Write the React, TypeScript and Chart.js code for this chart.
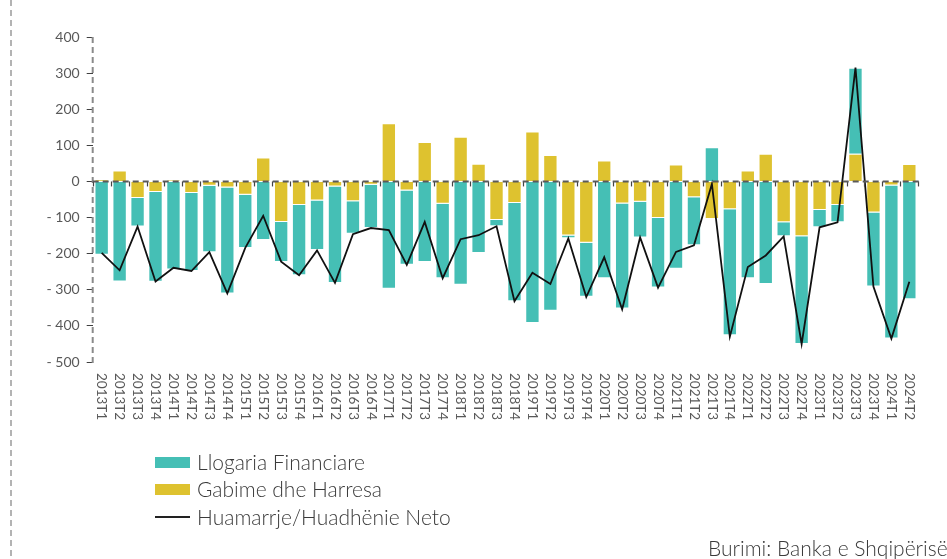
import React, { useEffect, useRef } from "react";
import { Chart, registerables } from "chart.js";

Chart.register(...registerables);

const categories = [
  "2013T1", "2013T2", "2013T3", "2013T4",
  "2014T1", "2014T2", "2014T3", "2014T4",
  "2015T1", "2015T2", "2015T3", "2015T4",
  "2016T1", "2016T2", "2016T3", "2016T4",
  "2017T1", "2017T2", "2017T3", "2017T4",
  "2018T1", "2018T2", "2018T3", "2018T4",
  "2019T1", "2019T2", "2019T3", "2019T4",
  "2020T1", "2020T2", "2020T3", "2020T4",
  "2021T1", "2021T2", "2021T3", "2021T4",
  "2022T1", "2022T2", "2022T3", "2022T4",
  "2023T1", "2023T2", "2023T3", "2023T4",
  "2024T1", "2024T2",
];

const financialAccount = [
  -203, -277, -79, -249,
  -244, -216, -184, -293,
  -147, -162, -111, -195,
  -137, -267, -90, -120,
  -297, -206, -223, -206,
  -286, -198, -17, -272,
  -392, -358, -7, -149,
  -268, -291, -99, -193,
  -242, -133, 95, -349,
  -268, -284, -39, -298,
  -48, -48, 238, -205,
  -424, -326,
];

const errorsOmissions = [
  5, 30, -46, -29,
  4, -32, -12, -17,
  -37, 66, -112, -65,
  -53, -14, -55, -9,
  161, -25, 109, -62,
  124, 49, -107, -60,
  138, 73, -150, -170,
  58, -61, -56, -101,
  47, -44, -104, -77,
  30, 77, -113, -152,
  -79, -65, 77, -86,
  -11, 48,
];

const netLending = [
  -198, -246, -125, -277,
  -239, -248, -196, -310,
  -184, -95, -222, -260,
  -191, -281, -146, -129,
  -135, -231, -112, -268,
  -160, -149, -124, -332,
  -253, -284, -158, -320,
  -210, -354, -155, -294,
  -195, -177, -7, -430,
  -237, -205, -152, -450,
  -127, -113, 315, -291,
  -435, -278,
];

const yTicks = [400, 300, 200, 100, 0, -100, -200, -300, -400, -500];

const seriesNames = ["Llogaria Financiare", "Gabime dhe Harresa", "Huamarrje/Huadhënie Neto"];
const sourceText = "Burimi: Banka e Shqipërisë";

const TEAL = "#45BFB5";
const YELLOW = "#DEC22F";
const FONT = "Lato, 'Open Sans', sans-serif";

const decorPlugin = {
  id: "decor",
  beforeDraw(chart: any) {
    const ctx = chart.ctx;
    ctx.save();
    ctx.strokeStyle = "#9a9a9a";
    ctx.lineWidth = 1.5;
    ctx.setLineDash([6, 4]);
    ctx.beginPath();
    ctx.moveTo(11, 0);
    ctx.lineTo(11, chart.height);
    ctx.stroke();
    ctx.restore();
  },
  afterDatasetsDraw(chart: any) {
    const ctx = chart.ctx;
    const xs = chart.scales.x;
    const ys = chart.scales.y;
    const area = chart.chartArea;
    const y0 = ys.getPixelForValue(0);
    ctx.save();
    // dashed y axis line
    ctx.strokeStyle = "#8a8a8a";
    ctx.lineWidth = 2;
    ctx.setLineDash([6, 4]);
    ctx.beginPath();
    ctx.moveTo(area.left, ys.getPixelForValue(yTicks[0]));
    ctx.lineTo(area.left, ys.getPixelForValue(yTicks[yTicks.length - 1]) + 1);
    ctx.stroke();
    // tick marks at category boundaries
    ctx.strokeStyle = "#444";
    ctx.lineWidth = 1.2;
    ctx.setLineDash([]);
    const n = categories.length;
    const step = n > 1 ? xs.getPixelForValue(1) - xs.getPixelForValue(0) : 0;
    for (let i = 0; i <= n; i++) {
      const bx = Math.round(xs.getPixelForValue(i) - step / 2) + 0.5;
      ctx.beginPath();
      ctx.moveTo(bx, y0);
      ctx.lineTo(bx, y0 + 5);
      ctx.stroke();
    }
    // dashed zero line
    ctx.strokeStyle = "#5a5a5a";
    ctx.lineWidth = 2;
    ctx.setLineDash([6, 4]);
    ctx.beginPath();
    ctx.moveTo(area.left, y0);
    ctx.lineTo(area.right + 2, y0);
    ctx.stroke();
    ctx.restore();
  },
  afterDraw(chart: any) {
    const ctx = chart.ctx;
    const xs = chart.scales.x;
    const area = chart.chartArea;
    ctx.save();
    ctx.fillStyle = "#595959";
    ctx.font = `13.5px ${FONT}`;
    ctx.textAlign = "left";
    ctx.textBaseline = "middle";
    categories.forEach((c, i) => {
      const cx = xs.getPixelForValue(i);
      ctx.save();
      ctx.translate(cx, area.bottom + 11);
      ctx.rotate(Math.PI / 2);
      ctx.fillText(c, 0, 0);
      ctx.restore();
    });
    ctx.restore();
  },
};

export default function App() {
  const canvasRef = useRef<HTMLCanvasElement | null>(null);

  useEffect(() => {
    document.body.style.margin = "0";
    const canvas = canvasRef.current;
    if (!canvas) return;
    const chart = new Chart(canvas, {
      type: "bar",
      data: {
        labels: categories,
        datasets: [
          {
            type: "line",
            label: seriesNames[2],
            data: netLending,
            borderColor: "#111111",
            borderWidth: 1.8,
            pointRadius: 0,
            tension: 0,
            fill: false,
            stack: "net",
            order: 0,
          } as any,
          {
            type: "bar",
            label: seriesNames[1],
            data: errorsOmissions,
            backgroundColor: YELLOW,
            borderColor: "rgba(255,255,255,0.55)",
            borderWidth: 1,
            stack: "bars",
            order: 1,
            barPercentage: 0.8,
            categoryPercentage: 1.0,
          },
          {
            type: "bar",
            label: seriesNames[0],
            data: financialAccount,
            backgroundColor: TEAL,
            borderColor: "rgba(255,255,255,0.55)",
            borderWidth: 1,
            stack: "bars",
            order: 2,
            barPercentage: 0.8,
            categoryPercentage: 1.0,
          },
        ],
      },
      options: {
        responsive: false,
        animation: false,
        devicePixelRatio: 1,
        layout: { padding: { left: 0, right: 28.7, top: 37, bottom: 197 } },
        plugins: {
          legend: { display: false },
          tooltip: { enabled: false },
        },
        scales: {
          x: {
            type: "category",
            display: false,
            stacked: true,
            offset: true,
          },
          y: {
            stacked: true,
            min: -500,
            max: 400,
            afterFit: (s: any) => {
              s.width = 92.7;
            },
            afterBuildTicks: (s: any) => {
              s.ticks = yTicks.map((v) => ({ value: v }));
            },
            ticks: {
              color: "#595959",
              font: { family: FONT, size: 14 },
              padding: 7,
              callback: (v: any) => (Number(v) < 0 ? "- " + Math.abs(Number(v)) : String(v)),
            },
            grid: {
              drawOnChartArea: false,
              drawTicks: true,
              tickLength: 6,
              color: "#404040",
              lineWidth: 1,
            },
            border: {
              display: false,
            },
          },
        },
      },
      plugins: [decorPlugin],
    });
    return () => chart.destroy();
  }, []);

  const textStyle: React.CSSProperties = {
    position: "absolute",
    fontFamily: FONT,
    fontWeight: 300,
    fontSize: 21,
    color: "#3a3a3a",
    lineHeight: "24px",
    whiteSpace: "nowrap",
  };

  return (
    <div style={{ position: "fixed", left: 0, top: 0, width: 947, height: 559, background: "#fff", overflow: "hidden" }}>
      <canvas ref={canvasRef} width={947} height={559} style={{ position: "absolute", left: 0, top: 0 }} />
      <div style={{ position: "absolute", left: 155, top: 457, width: 35, height: 11, background: TEAL }} />
      <div style={{ ...textStyle, left: 197, top: 450 }}>{seriesNames[0]}</div>
      <div style={{ position: "absolute", left: 155, top: 484, width: 35, height: 11, background: YELLOW }} />
      <div style={{ ...textStyle, left: 197, top: 477 }}>{seriesNames[1]}</div>
      <div style={{ position: "absolute", left: 155, top: 516, width: 35, height: 2, background: "#222" }} />
      <div style={{ ...textStyle, left: 197, top: 505 }}>{seriesNames[2]}</div>
      <div style={{ ...textStyle, left: 708, top: 536 }}>{sourceText}</div>
    </div>
  );
}
